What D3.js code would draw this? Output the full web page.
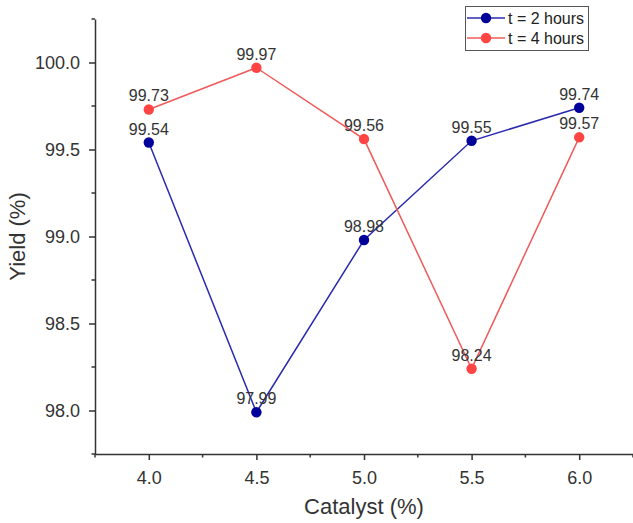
<!DOCTYPE html>
<html><head><meta charset="utf-8">
<script src="https://cdn.jsdelivr.net/npm/d3@7"></script>
<style>body{margin:0;background:#fff}svg{display:block}text{font-family:Arial,"Liberation Sans",sans-serif}</style>
</head><body>
<svg id="c" width="633" height="523"></svg>
<script>
const catalyst = [4.0, 4.5, 5.0, 5.5, 6.0];
const yield2h = [99.54, 97.99, 98.98, 99.55, 99.74];
const yield4h = [99.73, 99.97, 99.56, 98.24, 99.57];
const seriesNames = ["t = 2 hours", "t = 4 hours"];
const xTicks = [4.0, 4.5, 5.0, 5.5, 6.0];
const yTicks = [98.0, 98.5, 99.0, 99.5, 100.0];

const svg = d3.select("#c");
const m = {l: 95, r: 0, t: 19, b: 69};
const W = 633, H = 523;
const x = d3.scaleLinear().domain([3.75, 6.25]).range([m.l, W - m.r]);
const y = d3.scaleLinear().domain([97.75, 100.25]).range([H - m.b, m.t]);

const axisColor = "#333";
const xMinor = [3.75,4.25,4.75,5.25,5.75,6.25];
const yMinor = [97.75,98.25,98.75,99.25,99.75,100.25];

const gx = svg.append("g").attr("transform", `translate(0,${H - m.b})`);
gx.call(d3.axisBottom(x).tickValues(xTicks).tickFormat(d3.format(".1f")).tickSize(6).tickPadding(11).tickSizeOuter(0));
gx.append("g").selectAll("line").data(xMinor).join("line")
  .attr("x1", d => x(d)).attr("x2", d => x(d)).attr("y1", 0).attr("y2", 3.5);
gx.selectAll("line").attr("stroke", axisColor).attr("stroke-width", 1.5);
gx.select(".domain").attr("stroke", axisColor).attr("stroke-width", 1.5);
gx.selectAll(".tick text").attr("font-size", 18).attr("fill", "#333");

const gy = svg.append("g").attr("transform", `translate(${m.l},0)`);
gy.call(d3.axisLeft(y).tickValues(yTicks).tickFormat(d3.format(".1f")).tickSize(6).tickPadding(9).tickSizeOuter(0));
gy.append("g").selectAll("line").data(yMinor).join("line")
  .attr("y1", d => y(d)).attr("y2", d => y(d)).attr("x1", 0).attr("x2", -3.5);
gy.selectAll("line").attr("stroke", axisColor).attr("stroke-width", 1.5);
gy.select(".domain").attr("stroke", axisColor).attr("stroke-width", 1.5);
gy.selectAll(".tick text").attr("font-size", 18).attr("fill", "#333");

svg.append("text").attr("x", x(5.0)).attr("y", 514).attr("text-anchor", "middle")
  .attr("font-size", 22).attr("fill", "#333").text("Catalyst (%)");
svg.append("text").attr("transform", `translate(25,${(y.range()[0] + y.range()[1]) / 2}) rotate(-90)`)
  .attr("text-anchor", "middle").attr("font-size", 22).attr("fill", "#333").text("Yield (%)");

const series = [
  {name: seriesNames[0], vals: yield2h, line: "#2a2ab0", dot: "#00009a"},
  {name: seriesNames[1], vals: yield4h, line: "#f05a5a", dot: "#ff4444"}
];
const line = d3.line().x(d => x(d[0])).y(d => y(d[1]));
series.forEach(s => {
  const pts = catalyst.map((c, i) => [c, s.vals[i]]);
  svg.append("path").attr("d", line(pts)).attr("fill", "none").attr("stroke", s.line).attr("stroke-width", 1.5);
});
series.forEach(s => {
  const pts = catalyst.map((c, i) => [c, s.vals[i]]);
  svg.append("g").selectAll("circle").data(pts).join("circle")
    .attr("cx", d => x(d[0])).attr("cy", d => y(d[1])).attr("r", 5.2).attr("fill", s.dot);
});
series.forEach(s => {
  const pts = catalyst.map((c, i) => [c, s.vals[i]]);
  svg.append("g").selectAll("text").data(pts).join("text")
    .attr("x", d => x(d[0])).attr("y", d => y(d[1]) - 8).attr("text-anchor", "middle")
    .attr("font-size", 16).attr("fill", "#333").text(d => d[1].toFixed(2));
});

const lg = svg.append("g");
lg.append("rect").attr("x", 465.5).attr("y", 6.5).attr("width", 123).attr("height", 44)
  .attr("fill", "#fff").attr("stroke", "#555").attr("stroke-width", 1);
series.forEach((s, i) => {
  const yy = 18 + i * 20;
  lg.append("line").attr("x1", 467).attr("x2", 505).attr("y1", yy).attr("y2", yy).attr("stroke", s.line).attr("stroke-width", 1.5);
  lg.append("circle").attr("cx", 486).attr("cy", yy).attr("r", 5.2).attr("fill", s.dot);
  lg.append("text").attr("x", 508).attr("y", yy + 5.5).attr("font-size", 16).attr("fill", "#222").text(s.name);
});
</script>
</body></html>
